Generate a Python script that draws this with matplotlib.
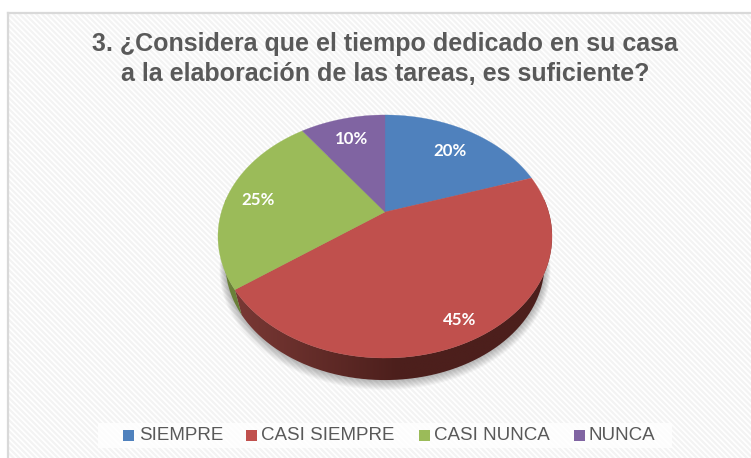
import numpy as np
import matplotlib
matplotlib.use('Agg')
import matplotlib.pyplot as plt
from matplotlib.colors import to_rgb
from matplotlib.patches import Polygon, Rectangle

#chart values
categories = ['SIEMPRE', 'CASI SIEMPRE', 'CASI NUNCA', 'NUNCA']
values = [20, 45, 25, 10]
colors = ['#4f81bd', '#c0504d', '#9bbb59', '#8064a2']
wall_light = ['#3d638f', '#7c3a36', '#6b8239', '#594671']
wall_dark = ['#2a4460', '#4c1f1c', '#4e5f2d', '#413251']
title_lines = '3. ¿Considera que el tiempo dedicado en su casa\na la elaboración de las tareas, es suficiente?'

#layout in pixels of the picture
W, H = 751, 458
cx, cy = 385.0, 212.0
A, B, k = 163.6, 116.6, 0.2016
low_scale, low_y = 0.955, 240.6
label_xy = [(450, 151), (460, 320), (258, 200), (352, 139)]
legend_marks = [123, 246, 419, 574]
legend_text = [139, 261, 434, 588]

plt.rcParams['hatch.linewidth'] = 1.6

fig = plt.figure(figsize=(W / 100, H / 100), dpi=100)
ax = fig.add_axes([0, 0, 1, 1])


# pie is seen in perspective, so the apex is not the middle of the ellipse
def project(t, scale=1.0, y0=cy):
    s, c = np.sin(t), np.cos(t)
    w = 1 + k * c
    return cx + scale * A * s / w, y0 - scale * B * c / w


#background with diagonal stripes and border
ax.add_patch(Rectangle((8, 12), W, H, facecolor='white', edgecolor='#f3f3f3',
                       hatch='\\\\\\\\\\\\', linewidth=0, zorder=0))
ax.plot([8, 8], [H, 12.5], color='#d9d9d9', lw=1.6, zorder=1)
ax.plot([8, W], [12.5, 12.5], color='#d9d9d9', lw=1.6, zorder=1)

#soft shadow under the pie
tt = np.linspace(0, 2 * np.pi, 240)
for g in range(9, 0, -1):
    px, py = project(tt, low_scale + g * 0.004, low_y + g * 0.5)
    ax.fill(px, py, color='black', alpha=0.03, lw=0, zorder=2)

edges = np.radians(np.cumsum([0] + values) * 3.6)

#side wall, a gradient clipped to the band between the two rims
grad_x = np.linspace(225, 400, 64)
for i in range(len(values)):
    ts = np.linspace(edges[i], edges[i + 1], 80)
    x0, y0 = project(ts)
    x1, y1 = project(ts, low_scale, low_y)
    band = Polygon(np.c_[np.r_[x0, x1[::-1]], np.r_[y0, y1[::-1]]], closed=True,
                   transform=ax.transData, facecolor='none', edgecolor='none')
    ax.add_patch(band)
    f = (grad_x - grad_x[0]) / (grad_x[-1] - grad_x[0])
    grad = np.outer(1 - f, to_rgb(wall_light[i])) + np.outer(f, to_rgb(wall_dark[i]))
    grad = np.r_[grad, np.tile(to_rgb(wall_dark[i]), (64, 1))]
    im = ax.imshow(grad[np.newaxis, :, :], extent=(225, 225 + 2 * 175, 400, 200),
                   aspect='auto', interpolation='bilinear', zorder=3)
    im.set_clip_path(band)

#top of the pie
for i in range(len(values)):
    ts = np.linspace(edges[i], edges[i + 1], 80)
    x, y = project(ts)
    ax.fill(np.r_[cx, x], np.r_[cy, y], color=colors[i], lw=0.2, zorder=4)

for v, (lx, ly) in zip(values, label_xy):
    ax.text(lx, ly, f'{v}%', color='white', fontsize=12.2, fontweight='bold', family='Lato',
            ha='center', va='center', zorder=5)

ax.text(385, 59, title_lines, color='#595959', fontsize=18, fontweight='bold',
        family='Liberation Sans', ha='center', va='center', linespacing=1.27, zorder=5)

#legend
ax.add_patch(Rectangle((98, 423), 574, 25, facecolor='white', edgecolor='none', alpha=0.8, zorder=2))
for name, col, mx, tx in zip(categories, colors, legend_marks, legend_text):
    ax.add_patch(Rectangle((mx, 430), 11, 11, facecolor=col, edgecolor='none', zorder=5))
    ax.text(tx, 435.5, name, color='#595959', fontsize=13.5, family='Liberation Sans',
            ha='left', va='center', zorder=5)

ax.set_xlim(0, W)
ax.set_ylim(H, 0)
ax.axis('off')

fig.savefig('out.png', dpi=100)
